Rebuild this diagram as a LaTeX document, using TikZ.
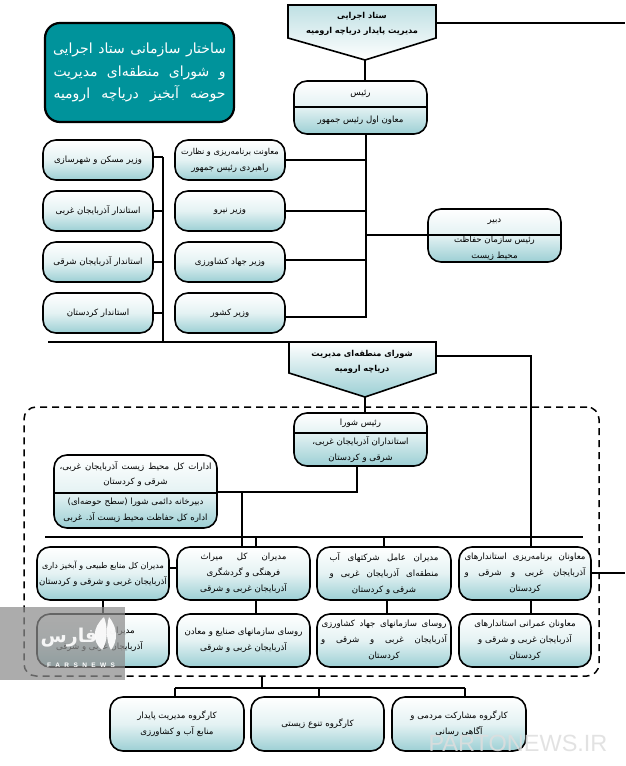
\documentclass[tikz,border=0pt]{standalone}
\usepackage{fontspec}
\usetikzlibrary{calc}
\TeXXeTstate=1
\newfontfamily\arabicfont[Script=Arabic]{DejaVu Sans}
\newfontfamily\wmfont{Liberation Sans}
\definecolor{tealbox}{HTML}{00939B}
\definecolor{paleend}{HTML}{9CCFD4}
\definecolor{palemid}{HTML}{E4F2F3}
\definecolor{wmgrey}{HTML}{8C8C8C}
\tikzset{
 x=1pt,y=-1pt,
 line/.style={draw=black,line width=1.3pt},
 thickline/.style={draw=black,line width=1.9pt},
 outline/.style={draw=black,line width=1.6pt,rounded corners=13pt},
 label/.style={font=\arabicfont\fontsize{8.6}{15.5}\selectfont,align=center,inner sep=0pt,text=black},
 boldlabel/.style={font=\arabicfont\bfseries\fontsize{8.2}{15.5}\selectfont,align=center,inner sep=0pt,text=black},
 plainbox/.style={rectangle,outline,top color=white,bottom color=paleend,middle color=palemid,
   inner sep=0pt,align=center,font=\arabicfont\fontsize{8.6}{16}\selectfont},
}
% \ubox{name}{x1}{y1}{x2}{y2}{text}
\newcommand{\ubox}[6]{%
 \node[plainbox,minimum width=#4pt-#2pt,minimum height=#5pt-#3pt] (#1) at ({(#2+#4)/2},{(#3+#5)/2}) {#6};}
% \tbox{name}{x1}{y1}{x2}{y2}{ydiv}{top}{bottom}
\newcommand{\tbox}[8]{%
 \begin{scope}
  \clip[rounded corners=13pt] (#2,#3) rectangle (#4,#5);
  \path[top color=white,bottom color=palemid] (#2,#3) rectangle (#4,#6);
  \path[top color=palemid,bottom color=paleend] (#2,#6) rectangle (#4,#5);
 \end{scope}
 \node[rectangle,outline,inner sep=0pt,minimum width=#4pt-#2pt,minimum height=#5pt-#3pt] (#1) at ({(#2+#4)/2},{(#3+#5)/2}) {};
 \coordinate (#1dl) at (#2,#6);
 \coordinate (#1dr) at (#4,#6);
 \draw[line] (#1dl) -- (#1dr);
 \node[label] (#1t) at ({(#2+#4)/2},{(#3+#6)/2}) {#7};
 \node[label] (#1b) at ({(#2+#4)/2},{(#6+#5)/2}) {#8};}
\begin{document}
\begin{tikzpicture}
\useasboundingbox (0,0) rectangle (625,766);
\fill[white] (0,0) rectangle (625,766);
% title
\node[rectangle,draw=black,line width=2.2pt,fill=tealbox,rounded corners=15pt,minimum width=189pt,minimum height=99pt,
  inner sep=0pt,align=center,text=white,font=\arabicfont\fontsize{14}{22.5}\selectfont] (title) at (139.5,72.5)
  {\hbox to 173pt{\beginR ساختار سازمانی ستاد اجرایی\endR}\\\hbox to 172pt{\beginR و شورای منطقه‌ای مدیریت\endR}\\\hbox to 172pt{\beginR حوضه آبخیز دریاچه ارومیه\endR}};
% pentagons
\path[draw=black,line width=1.6pt,top color=paleend!65,bottom color=white]
  (288,5) -- (436,5) -- (436,38) -- (365,60) -- (288,38) -- cycle;
\coordinate (penta) at (365,60);
\coordinate (pentaR) at (436,23);
\node[boldlabel] (pentaT) at (362,24) {\beginR ستاد اجرایی\endR\\\beginR مدیریت پایدار دریاچه ارومیه\endR};
\path[draw=black,line width=1.6pt,top color=white,bottom color=paleend]
  (289,342) -- (436,342) -- (436,373) -- (365,397) -- (289,373) -- cycle;
\coordinate (pentb) at (365,397);
\coordinate (pentbR) at (436,356);
\coordinate (pentbL) at (289,342);
\node[boldlabel] (pentbT) at (362,362) {\beginR شورای منطقه‌ای مدیریت\endR\\\beginR دریاچه ارومیه\endR};
% dashed frame
\node[rectangle,draw=black,line width=1.5pt,dash pattern=on 7pt off 5pt,rounded corners=12pt,minimum width=575pt,minimum height=269pt,inner sep=0pt] (frame) at (311.5,541.5) {};
% connector helpers
\coordinate (spineL) at (163,157);
\coordinate (spineLb) at (163,342);
\coordinate (ruleL) at (48,342);
\coordinate (spineM) at (366,317);
\coordinate (outA) at (625,23);
\coordinate (outB) at (625,573);
% boxes
\tbox{rais}{294}{81}{427}{134}{107}{\beginR رئیس\endR}{\beginR معاون اول رئیس جمهور\endR}
\ubox{m1}{175}{140}{285}{180}{\fontsize{8.2}{16}\selectfont\beginR معاونت برنامه‌ریزی و نظارت\endR\\\beginR راهبردی رئیس جمهور\endR}
\ubox{m2}{175}{191}{285}{231}{\beginR وزیر نیرو\endR}
\ubox{m3}{175}{242}{285}{282}{\beginR وزیر جهاد کشاورزی\endR}
\ubox{m4}{175}{293}{285}{333}{\beginR وزیر کشور\endR}
\ubox{l1}{43}{140}{153}{180}{\beginR وزیر مسکن و شهرسازی\endR}
\ubox{l2}{43}{191}{153}{231}{\beginR استاندار آذربایجان غربی\endR}
\ubox{l3}{43}{242}{153}{282}{\beginR استاندار آذربایجان شرقی\endR}
\ubox{l4}{43}{293}{153}{333}{\beginR استاندار کردستان\endR}
\tbox{dabir}{428}{209}{561}{262}{235}{\beginR دبیر\endR}{\beginR رئیس سازمان حفاظت\endR\\\beginR محیط زیست\endR}
\tbox{shura}{294}{413}{427}{466}{433}{\beginR رئیس شورا\endR}{\beginR استانداران آذربایجان غربی،\endR\\\beginR شرقی و کردستان\endR}
\tbox{edarat}{54}{455}{217}{528}{493}{\hbox to 152pt{\beginR ادارات کل محیط زیست آذربایجان غربی،\endR}\\\beginR شرقی و کردستان\endR}{\beginR دبیرخانه دائمی شورا (سطح حوضه‌ای)\endR\\\beginR اداره کل حفاظت محیط زیست آذ. غربی\endR}
\ubox{ra}{37}{547}{169}{600}{\fontsize{8}{16}\selectfont\beginR مدیران کل منابع طبیعی و آبخیز داری\endR\\\beginR آذربایجان غربی و شرقی و کردستان\endR}
\ubox{rb}{177}{547}{310}{600}{\hbox to 86pt{\beginR مدیران کل میراث\endR}\\\beginR فرهنگی و گردشگری\endR\\\beginR آذربایجان غربی و شرقی\endR}
\ubox{rc}{317}{547}{451}{600}{\hbox to 109pt{\beginR مدیران عامل شرکتهای آب\endR}\\\hbox to 109pt{\beginR منطقه‌ای آذربایجان غربی و\endR}\\\beginR شرقی و کردستان\endR}
\ubox{rd}{459}{547}{591}{600}{\hbox to 121pt{\beginR معاونان برنامه‌ریزی استاندارهای\endR}\\\hbox to 121pt{\beginR آذربایجان غربی و شرقی و\endR}\\\beginR کردستان\endR}
\ubox{sa}{37}{614}{169}{667}{}
\node[label,anchor=east] (sa1) at (135,631) {\beginR مدیران\endR};
\node[label,anchor=east] (sa2) at (143,647) {\beginR آذربایجان غربی و شرقی\endR};
\ubox{sb}{177}{614}{310}{667}{\beginR روسای سازمانهای صنایع و معادن\endR\\\beginR آذربایجان غربی و شرقی\endR}
\ubox{sc}{317}{614}{451}{667}{\hbox to 125pt{\beginR روسای سازمانهای جهاد کشاورزی\endR}\\\hbox to 126pt{\beginR آذربایجان غربی و شرقی و\endR}\\\beginR کردستان\endR}
\ubox{sd}{459}{614}{591}{667}{\beginR معاونان عمرانی استاندارهای\endR\\\beginR آذربایجان غربی و شرقی و\endR\\\beginR کردستان\endR}
\ubox{wa}{110}{697}{244}{751}{\beginR کارگروه مدیریت پایدار\endR\\\beginR منابع آب و کشاورزی\endR}
\ubox{wb}{251}{697}{384}{751}{\beginR کارگروه تنوع زیستی\endR}
\ubox{wc}{392}{697}{526}{751}{\beginR کارگروه مشارکت مردمی و\endR\\\beginR آگاهی رسانی\endR}
% connectors top
\draw[thickline] (pentaR) -- (outA);
\draw[thickline] (penta) -- (penta|-rais.north);
\draw[thickline] (rais.south-|spineM) -- (spineM) -- (m4.east|-spineM);
\draw[line] (m1.east) -- (m1.east-|spineM);
\draw[line] (m2.east) -- (m2.east-|spineM);
\draw[line] (m3.east) ++(0,-2) -- ($(m3.east-|spineM)+(0,-2)$);
\draw[thickline] (spineM|-dabirdl) -- (dabirdl);
\draw[thickline] (spineL) -- (spineLb);
\draw[thickline] (l1.east|-spineL) -- (spineL);
\draw[line] (l2.east) -- (l2.east-|spineL);
\draw[line] (l3.east) -- (l3.east-|spineL);
\draw[line] (l4.east) -- (l4.east-|spineL);
\draw[thickline] (ruleL) -- (pentbL);
% connectors middle
\coordinate (ruleA) at (45,537);
\coordinate (ruleB) at (583,537);
\draw[thickline] (ruleA) -- (ruleB);
\draw[thickline] (pentb) -- (pentb|-shura.north);
\coordinate (jn) at (357,492);
\draw[thickline] (shura.south-|jn) -- (jn) -- (jn-|edarat.east);
\coordinate (jv) at (242,492);
\draw[line] (jv) -- (242,547);
\draw[line] (256,537) -- (rb.north-|256,0);
\draw[line] (384,537) -- (rc.north-|384,0);
\draw[thickline] (pentbR) -- (531,356) -- (rd.north-|531,0);
\draw[line] (ra.south-|103,0) -- (sa.north-|103,0);
\draw[line] (rb.south-|256,0) -- (sb.north-|256,0);
\draw[line] (rc.south-|387,0) -- (sc.north-|387,0);
\draw[line] (rd.south-|531,0) -- (sd.north-|531,0);
\draw[line] (ra.east|-0,568) -- (rb.west|-0,568);
\draw[thickline] (rd.east|-0,573) -- (outB);
% connectors bottom
\coordinate (botn) at (262,688);
\draw[thickline] (frame.south-|botn) -- (botn);
\draw[line] (175,688) -- (465,688);
\draw[line] (wa.north-|175,0) -- (175,688);
\draw[line] (wb.north-|319,0) -- (319,688);
\draw[line] (wc.north-|465,0) -- (465,688);
% watermarks
\fill[wmgrey,opacity=.72] (0,607) rectangle (125,680);
\node[font=\arabicfont\bfseries\fontsize{19}{19}\selectfont,text=white,opacity=.9,inner sep=0pt] (wmfa) at (69,638) {\beginR فارس\endR};
\node[font=\wmfont\bfseries\fontsize{6.5}{7}\selectfont,text=white,inner sep=0pt] (wmen) at (81,665) {\hbox to 68pt{F\hss A\hss R\hss S\hss N\hss E\hss W\hss S}};
\fill[white,opacity=.92] (102,650) .. controls (92,641) and (92,628) .. (104,617) .. controls (108,628) and (108,641) .. (102,650) -- cycle;
\fill[white,opacity=.92] (111,650) .. controls (106,641) and (106,628) .. (109,617) .. controls (118,628) and (118,641) .. (111,650) -- cycle;
\node[font=\wmfont\fontsize{23.5}{23.5}\selectfont,text=black!13,inner sep=0pt,opacity=.85] (wmp) at (518,743) {PARTONEWS.IR};
\end{tikzpicture}
\end{document}
